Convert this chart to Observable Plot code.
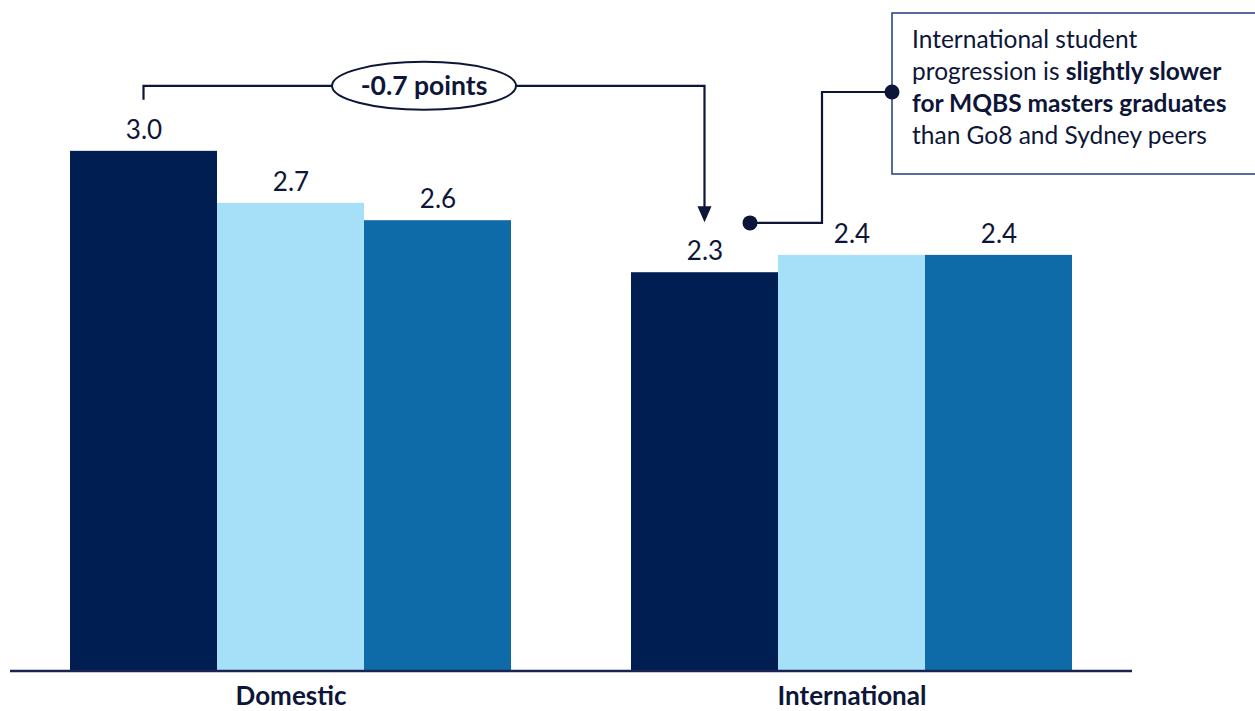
<!DOCTYPE html>
<html>
<head>
<meta charset="utf-8">
<script src="https://cdn.jsdelivr.net/npm/d3@7"></script>
<script src="https://cdn.jsdelivr.net/npm/@observablehq/plot@0.6"></script>
<style>
  html, body { margin: 0; padding: 0; background: #ffffff; }
  #chart svg { display: block; overflow: visible; }
</style>
</head>
<body>
<div id="chart"></div>
<script>
// ---- data ----
const groups = ["Domestic", "International"];
const series = ["MQBS", "Go8", "Sydney"];
const domesticValues = [3.0, 2.7, 2.6];
const internationalValues = [2.3, 2.4, 2.4];
const seriesColors = ["#001e52", "#a6e0f8", "#0f6aa8"];
const noteLines = [
  [{t: "International student", b: false}],
  [{t: "progression is ", b: false}, {t: "slightly slower", b: true}],
  [{t: "for MQBS masters graduates", b: true}],
  [{t: "than Go8 and Sydney peers", b: false}]
];

const data = [];
series.forEach((s, i) => data.push({group: groups[0], series: s, value: domesticValues[i]}));
series.forEach((s, i) => data.push({group: groups[1], series: s, value: internationalValues[i]}));

const ink = "#0d1638";
const W = 1255, H = 711;
const mL = 10, mR = 123, mB = 40;

const plot = Plot.plot({
  width: W,
  height: H,
  marginLeft: mL,
  marginRight: mR,
  marginTop: 0,
  marginBottom: mB,
  style: {fontFamily: "Lato, 'Open Sans', sans-serif", background: "#ffffff", color: ink},
  fx: {domain: groups, paddingInner: 0.21, paddingOuter: 0.105, axis: null, label: null},
  x: {domain: series, padding: 0, axis: null},
  y: {domain: [0, 3.87], axis: null},
  color: {domain: series, range: seriesColors},
  marks: [
    Plot.barY(data, {fx: "group", x: "series", y: "value", fill: "series"}),
    Plot.text(data, {fx: "group", x: "series", y: "value", text: d => d.value.toFixed(1),
      dy: -21, fontSize: 26, fill: ink}),
    Plot.text(groups, {fx: d => d, frameAnchor: "bottom", text: d => d, dy: 33,
      fontSize: 26, fontWeight: "bold", fill: ink})
  ]
});

document.getElementById("chart").appendChild(plot);

// ---- annotations (positions derived from scales) ----
const fxS = plot.scale("fx"), xS = plot.scale("x"), yS = plot.scale("y");
const cx = (g, s) => fxS.apply(g) - mL + xS.apply(s) + xS.bandwidth / 2;
const yp = v => yS.apply(v);

const svg = d3.select(plot);
const ann = svg.append("g")
  .attr("font-family", "Lato, 'Open Sans', sans-serif")
  .attr("text-anchor", "start");

// baseline across the whole range
const r = fxS.range;
ann.append("line")
  .attr("x1", r[0]).attr("x2", r[1])
  .attr("y1", yp(0)).attr("y2", yp(0))
  .attr("stroke", "#1a2452").attr("stroke-width", 2.5);

// bracket: domestic MQBS -> international MQBS
const x0 = cx(groups[0], series[0]);
const x1 = cx(groups[1], series[0]);
const yTop = yp(domesticValues[0]) - 65;
const yLeft = yp(domesticValues[0]) - 51;
const yTip = yp(internationalValues[0]) - 50;
ann.append("path")
  .attr("d", `M${x0},${yLeft}V${yTop}H${x1}V${yTip - 14}`)
  .attr("fill", "none").attr("stroke", ink).attr("stroke-width", 2.2);
ann.append("path")
  .attr("d", `M${x1 - 7},${yTip - 16}L${x1 + 7},${yTip - 16}L${x1},${yTip}Z`)
  .attr("fill", ink);
const ex = (x0 + x1) / 2;
ann.append("ellipse")
  .attr("cx", ex).attr("cy", yTop).attr("rx", 92).attr("ry", 24)
  .attr("fill", "#ffffff").attr("stroke", ink).attr("stroke-width", 2);
const diff = (internationalValues[0] - domesticValues[0]).toFixed(1);
ann.append("text")
  .attr("x", ex).attr("y", yTop).attr("dy", "0.35em")
  .attr("text-anchor", "middle").attr("font-size", 26.5).attr("font-weight", "bold")
  .attr("fill", ink).text(`${diff} points`);

// callout box
const bx = 892, by = 13, bh = 161;
ann.append("rect")
  .attr("x", bx).attr("y", by).attr("width", 420).attr("height", bh)
  .attr("fill", "#ffffff").attr("stroke", "#2b4a82").attr("stroke-width", 1.6);
const tx = ann.append("text").attr("font-size", 24.5).attr("fill", ink).attr("text-anchor", "start");
noteLines.forEach((line, i) => {
  const t = tx.append("tspan").attr("x", bx + 20).attr("y", by + 35 + i * 32);
  line.forEach((seg, j) => {
    const sp = j === 0 ? t : tx.append("tspan");
    sp.attr("font-weight", seg.b ? "bold" : "normal").text(seg.t);
  });
});

// connector from International Go8 bar area to box
const dotX = fxS.apply(groups[1]) - mL + xS.apply(series[1]) - 28;
const dotY = yp(internationalValues[1]) - 32;
const midX = fxS.apply(groups[1]) - mL + xS.apply(series[1]) + 44;
const boxY = by + 79;
ann.append("path")
  .attr("d", `M${dotX},${dotY}H${midX}V${boxY}H${bx}`)
  .attr("fill", "none").attr("stroke", ink).attr("stroke-width", 2.2);
ann.append("circle").attr("cx", dotX).attr("cy", dotY).attr("r", 7.5).attr("fill", ink);
ann.append("circle").attr("cx", bx).attr("cy", boxY).attr("r", 7.5).attr("fill", ink);
</script>
</body>
</html>
